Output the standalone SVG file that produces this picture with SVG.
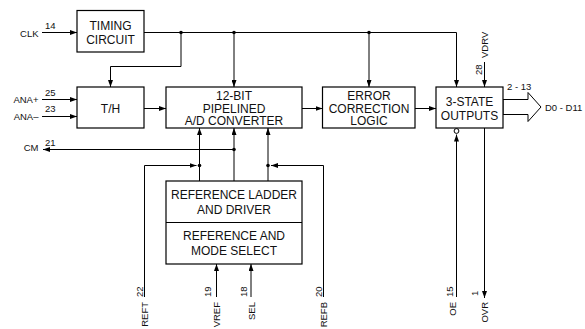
<svg xmlns="http://www.w3.org/2000/svg" width="585" height="329" viewBox="0 0 585 329">
<defs>
<marker id="ah" viewBox="0 0 7 5" refX="7" refY="2.5" markerWidth="7" markerHeight="5" markerUnits="userSpaceOnUse" orient="auto">
<path d="M0,0 L7,2.5 L0,5 z" fill="#000"/>
</marker>
</defs>
<style>
.box{fill:#fff;stroke:#000;stroke-width:1.2}
.ln{fill:none;stroke:#000;stroke-width:1}
.arr{marker-end:url(#ah)}
.bt{font-family:"Liberation Sans",Arial,sans-serif;font-size:12px;text-anchor:middle;fill:#111}
.lb{font-family:"Liberation Sans",Arial,sans-serif;font-size:9.5px;fill:#111}
.dot{fill:#000}
</style>
<rect width="585" height="329" fill="#fff"/>

<g id="connectors">
<path class="ln arr" d="M42,32.5 H77"/>
<path class="ln arr" d="M144,32.5 H456.5 V87"/>
<path class="ln arr" d="M181,32.5 V66.5 H110.5 V87"/>
<path class="ln arr" d="M234,32.5 V87"/>
<path class="ln arr" d="M369,32.5 V87"/>
<path class="ln arr" d="M42,99.5 H77"/>
<path class="ln arr" d="M42,116.5 H77"/>
<path class="ln arr" d="M144,108.5 H166"/>
<path class="ln arr" d="M302,108.5 H322.5"/>
<path class="ln arr" d="M415,108.5 H436"/>
<path class="ln arr" d="M484.5,62 V87"/>
<polygon points="503,99.5 528,99.5 528,92.5 541,107 528,121.5 528,114.5 503,114.5" fill="#fff" stroke="#000" stroke-width="1"/>
<path class="ln arr" d="M456.5,297 V134.5"/>
<circle cx="456.5" cy="131" r="2.4" fill="#fff" stroke="#000" stroke-width="1"/>
<path class="ln arr" d="M484.5,128 V298"/>
<path class="ln arr" d="M234,181 V128"/>
<path class="ln arr" d="M234,149.5 H43"/>
<path class="ln arr" d="M199.5,181 V128"/>
<path class="ln arr" d="M268,181 V128"/>
<path class="ln arr" d="M144.5,297 V165.5 H196.5"/>
<path class="ln arr" d="M323.5,297 V165.5 H271"/>
<path class="ln arr" d="M216.5,297 V264"/>
<path class="ln arr" d="M251,297 V264"/>
<circle class="dot" cx="181" cy="32.5" r="1.8"/>
<circle class="dot" cx="234" cy="32.5" r="1.8"/>
<circle class="dot" cx="369" cy="32.5" r="1.8"/>
<circle class="dot" cx="234" cy="149.5" r="1.8"/>
<circle class="dot" cx="199.5" cy="165.5" r="1.8"/>
<circle class="dot" cx="268" cy="165.5" r="1.8"/>
</g>

<g id="timing">
<rect class="box" x="77" y="10.5" width="67" height="41.5"/>
<text class="bt" x="110.5" y="29.5">TIMING</text>
<text class="bt" x="110.5" y="44">CIRCUIT</text>
</g>
<g id="th">
<rect class="box" x="77" y="87" width="67" height="41"/>
<text class="bt" x="110.5" y="112.5">T/H</text>
</g>
<g id="adc">
<rect class="box" x="166" y="87" width="136" height="41"/>
<text class="bt" x="234" y="100">12-BIT</text>
<text class="bt" x="234" y="112.5">PIPELINED</text>
<text class="bt" x="234" y="125">A/D CONVERTER</text>
</g>
<g id="ecl">
<rect class="box" x="322.5" y="87" width="92.5" height="41"/>
<text class="bt" x="369" y="100">ERROR</text>
<text class="bt" x="369" y="112.5">CORRECTION</text>
<text class="bt" x="369" y="125">LOGIC</text>
</g>
<g id="tristate">
<rect class="box" x="436" y="87" width="67" height="41"/>
<text class="bt" x="469.5" y="106">3-STATE</text>
<text class="bt" x="469.5" y="120">OUTPUTS</text>
</g>
<g id="ref">
<rect class="box" x="166" y="181" width="136" height="83"/>
<line x1="166" y1="222.5" x2="302" y2="222.5" stroke="#000" stroke-width="1.2"/>
<text class="bt" x="234" y="199">REFERENCE LADDER</text>
<text class="bt" x="234" y="214">AND DRIVER</text>
<text class="bt" x="234" y="240">REFERENCE AND</text>
<text class="bt" x="234" y="255">MODE SELECT</text>
</g>

<g id="labels">
<text class="lb" x="38.5" y="37" text-anchor="end">CLK</text>
<text class="lb" x="45" y="28.5">14</text>
<text class="lb" x="38.5" y="103" text-anchor="end">ANA+</text>
<text class="lb" x="45" y="96">25</text>
<text class="lb" x="38.5" y="119.5" text-anchor="end">ANA–</text>
<text class="lb" x="45" y="112">23</text>
<text class="lb" x="38.5" y="151" text-anchor="end">CM</text>
<text class="lb" x="45" y="146">21</text>
<text class="lb" x="507" y="90">2 - 13</text>
<text class="lb" x="545" y="110.5">D0 - D11</text>
<text class="lb" transform="translate(488,58) rotate(-90)">VDRV</text>
<text class="lb" transform="translate(482,75) rotate(-90)">28</text>
<text class="lb" transform="translate(148,302) rotate(-90)" text-anchor="end">REFT</text>
<text class="lb" transform="translate(143,297) rotate(-90)">22</text>
<text class="lb" transform="translate(220,302) rotate(-90)" text-anchor="end">VREF</text>
<text class="lb" transform="translate(211,297) rotate(-90)">19</text>
<text class="lb" transform="translate(254.5,302) rotate(-90)" text-anchor="end">SEL</text>
<text class="lb" transform="translate(246.5,297) rotate(-90)">18</text>
<text class="lb" transform="translate(327,302) rotate(-90)" text-anchor="end">REFB</text>
<text class="lb" transform="translate(322,297) rotate(-90)">20</text>
<text class="lb" transform="translate(455.5,302) rotate(-90)" text-anchor="end">OE</text>
<text class="lb" transform="translate(453,297) rotate(-90)">15</text>
<text class="lb" transform="translate(487.5,302) rotate(-90)" text-anchor="end">OVR</text>
<text class="lb" transform="translate(478,296) rotate(-90)">1</text>
</g>
</svg>
